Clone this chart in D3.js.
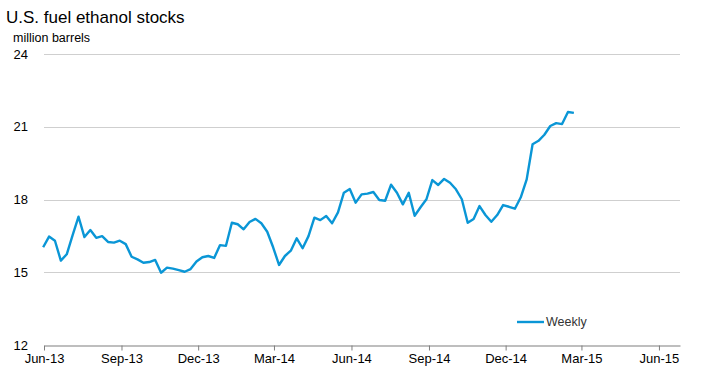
<!DOCTYPE html>
<html>
<head>
<meta charset="utf-8">
<script src="https://cdn.jsdelivr.net/npm/d3@7"></script>
<style>
  html, body { margin: 0; padding: 0; background: #fff; }
  svg { display: block; font-family: "Liberation Sans", Arial, sans-serif; }
</style>
</head>
<body>
<svg id="chart" width="719" height="384"></svg>
<script>
// ---- data ----
const title = "U.S. fuel ethanol stocks";
const unitLabel = "million barrels";
const seriesName = "Weekly";
const firstWeek = "2013-05-31";           // first weekly observation (Friday)
const weeklyStocks = [
  16.03, 16.47, 16.30, 15.48, 15.74, 16.53, 17.29, 16.45, 16.74, 16.42,
  16.49, 16.25, 16.22, 16.30, 16.16, 15.64, 15.53, 15.39, 15.42, 15.51,
  14.98, 15.19, 15.15, 15.09, 15.02, 15.13, 15.44, 15.62, 15.67, 15.59,
  16.12, 16.09, 17.04, 16.98, 16.77, 17.07, 17.20, 17.02, 16.67, 16.03,
  15.30, 15.67, 15.89, 16.40, 15.99, 16.49, 17.25, 17.15, 17.32, 17.02,
  17.47, 18.28, 18.43, 17.87, 18.21, 18.24, 18.31, 17.98, 17.95, 18.61,
  18.28, 17.80, 18.28, 17.33, 17.68, 18.01, 18.80, 18.60, 18.85, 18.69,
  18.42, 18.01, 17.04, 17.20, 17.73, 17.36, 17.08, 17.36, 17.77, 17.70,
  17.62, 18.09, 18.83, 20.28, 20.42, 20.67, 21.03, 21.15, 21.11, 21.61,
  21.57
];
const xTickDates = ["2013-06-01","2013-09-01","2013-12-01","2014-03-01","2014-06-01",
                    "2014-09-01","2014-12-01","2015-03-01","2015-06-01"];
const xTickLabels = ["Jun-13","Sep-13","Dec-13","Mar-14","Jun-14","Sep-14","Dec-14","Mar-15","Jun-15"];
const yTicks = [12, 15, 18, 21, 24];
const xDomain = ["2013-06-01", "2015-06-26"];
const yDomain = [12, 24];

// ---- layout ----
const parse = d3.utcParse("%Y-%m-%d");
const svg = d3.select("#chart");
const mLeft = 44, mRight = 680, mTop = 54, mBottom = 345;

const x = d3.scaleUtc().domain(xDomain.map(parse)).range([mLeft, mRight]);
const y = d3.scaleLinear().domain(yDomain).range([mBottom, mTop]);

const start = parse(firstWeek);
const data = weeklyStocks.map((v, i) => ({ date: d3.utcDay.offset(start, 7 * i), value: v }));

// title
svg.append("text").attr("x", 6).attr("y", 23)
  .attr("font-size", 17).attr("fill", "#000").text(title);
svg.append("text").attr("x", 13).attr("y", 42)
  .attr("font-size", 12.5).attr("fill", "#000").text(unitLabel);

// gridlines
svg.append("g").selectAll("line")
  .data(yTicks.filter(d => d !== yDomain[0]))
  .join("line")
  .attr("x1", mLeft).attr("x2", mRight)
  .attr("y1", d => Math.round(y(d)) + 0.5).attr("y2", d => Math.round(y(d)) + 0.5)
  .attr("stroke", "#cfcfcf").attr("stroke-width", 1);

// y labels
svg.append("g").selectAll("text")
  .data(yTicks).join("text")
  .attr("x", 28).attr("y", d => y(d))
  .attr("dy", "0.35em").attr("text-anchor", "end")
  .attr("font-size", 13).attr("fill", "#000")
  .text(d => d);

// x axis
const xAxis = d3.axisBottom(x)
  .tickValues(xTickDates.map(parse))
  .tickFormat((d, i) => xTickLabels[i])
  .tickSize(5).tickSizeOuter(0).tickPadding(3);
const gx = svg.append("g").attr("transform", `translate(0,${mBottom + 0.5})`).call(xAxis);
gx.select(".domain").attr("stroke", "#7f7f7f").attr("stroke-width", 1.2);
gx.selectAll(".tick line").attr("stroke", "#7f7f7f");
gx.selectAll(".tick text").attr("font-size", 13).attr("fill", "#000")
  .attr("font-family", "'Liberation Sans', Arial, sans-serif");

// series line
const line = d3.line().x(d => x(d.date)).y(d => y(d.value));
svg.append("path").datum(data)
  .attr("d", line).attr("fill", "none")
  .attr("stroke", "#0a96d6").attr("stroke-width", 2.4)
  .attr("stroke-linejoin", "round");

// legend
svg.append("line").attr("x1", 517).attr("x2", 544).attr("y1", 322).attr("y2", 322)
  .attr("stroke", "#0a96d6").attr("stroke-width", 2.4);
svg.append("text").attr("x", 546).attr("y", 322).attr("dy", "0.35em")
  .attr("font-size", 12.5).attr("fill", "#333").text(seriesName);
</script>
</body>
</html>
